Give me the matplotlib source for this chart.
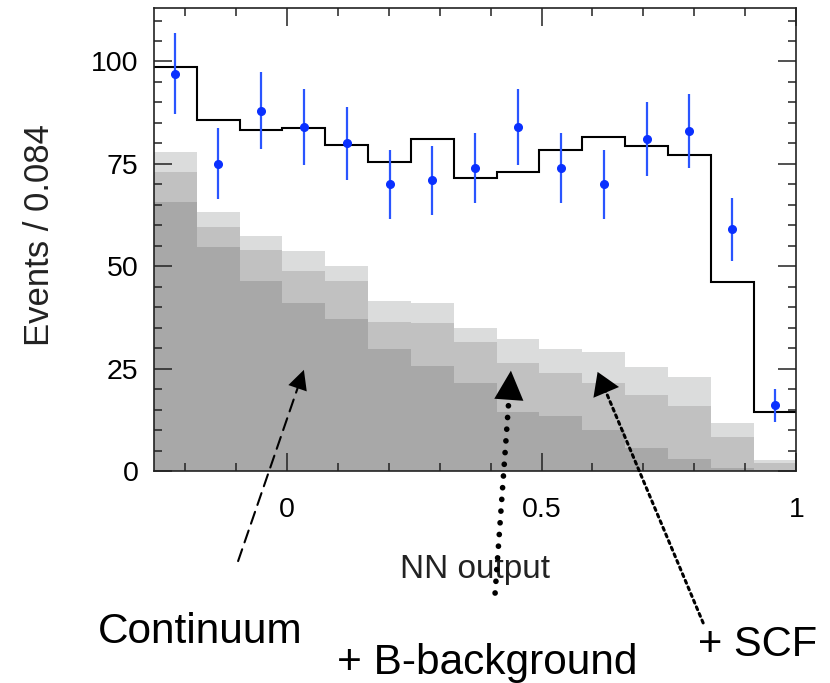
import numpy as np
import matplotlib
matplotlib.use("Agg")
import matplotlib.pyplot as plt
from matplotlib.ticker import MultipleLocator, FormatStrFormatter

plt.rcParams['font.family'] = ['Liberation Sans', 'DejaVu Sans']

# NN output binning: 15 bins of 0.084 between -0.26 and 1
edges = np.linspace(-0.26, 1.0, 16)
centers = 0.5 * (edges[:-1] + edges[1:])

# observed events per bin
data_counts = [97, 75, 88, 84, 80, 70, 71, 74, 84, 74, 70, 81, 83, 59, 16]
# total fit
fit_total = [98.7, 85.6, 83.3, 83.8, 79.5, 75.4, 81.1, 71.6, 73.1, 78.4,
             81.5, 79.3, 77.1, 46.1, 14.5]
# background components (stacked)
continuum = [65.8, 54.8, 46.3, 41.0, 37.2, 29.8, 25.6, 21.4, 14.5, 13.4,
             10.0, 5.5, 2.9, 0.7, 0.3]
b_background = [7.1, 4.9, 7.6, 7.9, 9.1, 6.7, 10.5, 10.1, 11.8, 10.6,
                11.6, 13.0, 12.9, 7.5, 1.6]
scf = [4.9, 3.5, 3.6, 4.9, 3.8, 5.1, 4.9, 3.4, 6.0, 5.7,
       7.4, 7.0, 7.1, 3.5, 0.7]

cont = np.array(continuum)
cont_bb = cont + np.array(b_background)
cont_bb_scf = cont_bb + np.array(scf)

fig = plt.figure(figsize=(8.3, 6.83), dpi=100)
ax = fig.add_axes([0.1855, 0.3104, 0.7741, 0.6775])

ax.stairs(cont_bb_scf, edges, fill=True, color='#dbdcdc', lw=0, zorder=1)
ax.stairs(cont_bb, edges, fill=True, color='#c1c1c1', lw=0, zorder=1)
ax.stairs(cont, edges, fill=True, color='#a8a8a8', lw=0, zorder=1)
ax.stairs(fit_total, edges, baseline=None, color='k', lw=1.5, zorder=2)
ax.errorbar(centers, data_counts, yerr=np.sqrt(data_counts), fmt='o',
            color='#0a30ff', ecolor='#2a55ff', ms=5.5, elinewidth=1.6,
            capsize=0, zorder=3)

ax.set_xlim(-0.26, 1.0)
ax.set_ylim(0, 113)
ax.xaxis.set_major_locator(MultipleLocator(0.5))
ax.xaxis.set_minor_locator(MultipleLocator(0.1))
ax.xaxis.set_major_formatter(FormatStrFormatter('%g'))
ax.yaxis.set_major_locator(MultipleLocator(25))
ax.yaxis.set_minor_locator(MultipleLocator(5))
ax.tick_params(which='both', direction='in', top=True, right=True,
               width=1.1, color='#222222')
ax.tick_params(which='major', length=13)
ax.tick_params(which='minor', length=6)
ax.tick_params(axis='y', labelsize=20.5, pad=11)
ax.tick_params(axis='x', labelsize=20.5, pad=18.5)
for s in ax.spines.values():
    s.set_linewidth(1.2)
    s.set_color('#222222')

ax.set_xlabel('NN output', fontsize=24, color='#222222')
ax.xaxis.label.set_va('baseline')
ax.xaxis.set_label_coords(0.5, -0.231)
ax.set_ylabel('Events / 0.084', fontsize=25, color='#222222')
ax.yaxis.label.set_va('baseline')
ax.yaxis.set_label_coords(-0.163, 0.51)


def pointer(tip, tail, head_len, head_w, **line):
    # shaft stops short of the tip, head is drawn as a filled triangle
    ax.annotate('', xy=tip, xytext=tail, annotation_clip=False,
                arrowprops=dict(arrowstyle='-', shrinkA=0,
                                shrinkB=head_len * 0.85, color='k', **line))
    ax.annotate('', xy=tip, xytext=tail, annotation_clip=False,
                arrowprops=dict(arrowstyle=f'-|>,head_length={head_len},head_width={head_w}',
                                mutation_scale=1, shrinkA=0, shrinkB=0,
                                lw=0, fc='k', ec='k'))


pointer((0.034, 24.7), (-0.095, -22.0), 14, 7,
        lw=1.5, linestyle=(0, (6, 3.5)))
pointer((0.440, 24.5), (0.409, -29.8), 21, 10.5,
        lw=4.1, linestyle=(0, (0.01, 2.05)), capstyle='round')
pointer((0.610, 24.2), (0.817, -37.1), 16, 10,
        lw=2.2, linestyle=(0, (1, 1.35)))

fig.text(98 / 830, 1 - 643 / 683, 'Continuum', fontsize=30.5, va='baseline')
fig.text(337 / 830, 1 - 674 / 683, '+ B-background', fontsize=30.5, va='baseline')
fig.text(698 / 830, 1 - 656 / 683, '+ SCF', fontsize=30, va='baseline')

fig.savefig('out.png', dpi=100)
